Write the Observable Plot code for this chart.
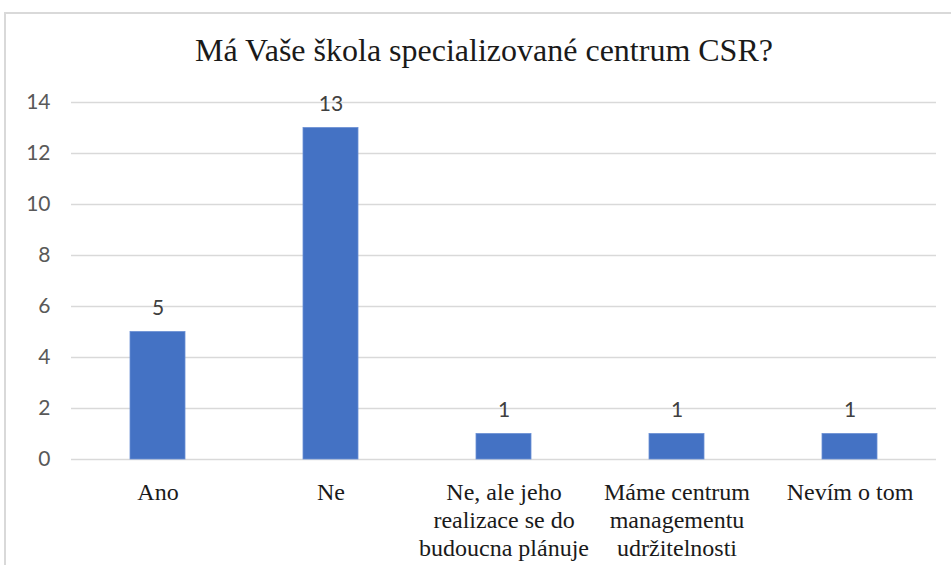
<!DOCTYPE html>
<html>
<head>
<meta charset="utf-8">
<script src="https://cdn.jsdelivr.net/npm/d3@7"></script>
<script src="https://cdn.jsdelivr.net/npm/@observablehq/plot@0.6"></script>
<style>
  html, body { margin: 0; padding: 0; background: #fff; }
  #wrap { position: relative; width: 951px; height: 565px; overflow: hidden; }
  #frame { position: absolute; left: 4px; top: 12px; width: 980px; height: 600px; border: 2px solid #d9d9d9; box-sizing: border-box; }
  #title { position: absolute; left: 0; top: 30px; width: 968px; text-align: center; font-family: "Liberation Serif", serif; font-size: 32px; line-height: 40px; color: #1a1a1a; }
  #chart { position: absolute; left: 0; top: 80px; }
</style>
</head>
<body>
<div id="wrap">
  <div id="frame"></div>
  <div id="title">Má Vaše škola specializované centrum CSR?</div>
  <div id="chart"></div>
</div>
<script>
const categories = ["Ano", "Ne", "Ne, ale jeho realizace se do budoucna plánuje", "Máme centrum managementu udržitelnosti", "Nevím o tom"];
const categoryLabels = ["Ano", "Ne", "Ne, ale jeho\nrealizace se do\nbudoucna plánuje", "Máme centrum\nmanagementu\nudržitelnosti", "Nevím o tom"];
const values = [5, 13, 1, 1, 1];
const yTicks = [0, 2, 4, 6, 8, 10, 12, 14];

const data = categories.map((c, i) => ({category: c, value: values[i]}));
const labelOf = new Map(categories.map((c, i) => [c, categoryLabels[i]]));

const chart = Plot.plot({
  width: 951,
  height: 485,
  marginLeft: 71,
  marginRight: 15,
  marginTop: 22,
  marginBottom: 106,
  style: {fontFamily: "Lato, sans-serif", background: "transparent"},
  x: {domain: categories, paddingInner: 0.68, paddingOuter: 0.34, label: null},
  y: {domain: [0, 14], ticks: yTicks, label: null, axis: null},
  marks: [
    Plot.gridY(yTicks, {stroke: "#d9d9d9", strokeOpacity: 1, strokeWidth: 1.5}),
    Plot.barY(data, {x: "category", y: "value", fill: "#4472C4", stroke: "#6a8fd4", strokeWidth: 0.8}),
    Plot.text(data, {x: "category", y: "value", text: d => String(d.value), lineAnchor: "bottom", dy: -17, fontSize: 21, fill: "#404040"}),
    Plot.text(yTicks, {y: d => d, text: d => String(d), frameAnchor: "left", textAnchor: "end", dx: -21, fontSize: 21, fill: "#595959"}),
    Plot.axisX({tickSize: 0, tickPadding: 21, fontSize: 24, fontFamily: "Liberation Serif, serif", lineHeight: 1.167, color: "#1a1a1a", tickFormat: d => labelOf.get(d), label: null})
  ]
});
document.getElementById("chart").appendChild(chart);
</script>
</body>
</html>
